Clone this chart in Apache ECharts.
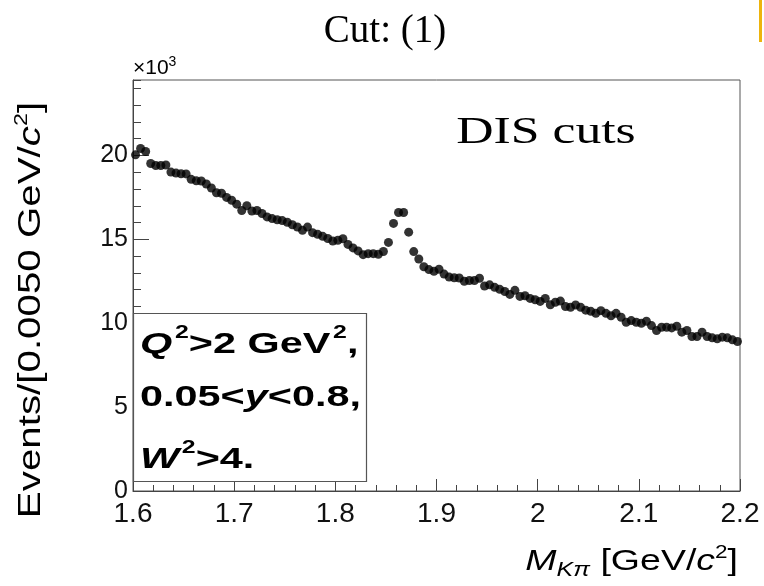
<!DOCTYPE html>
<html>
<head>
<meta charset="utf-8">
<script src="https://cdn.jsdelivr.net/npm/echarts@6/dist/echarts.min.js"></script>
<style>
  html, body { margin: 0; padding: 0; background: #fff; }
  #chart { width: 764px; height: 586px; }
</style>
</head>
<body>
<div id="chart"></div>
<script>
// K-pi invariant mass histogram, 120 bins of 0.005 GeV/c^2 from 1.6 to 2.2
const binLow = 1.6;
const binWidth = 0.005;
// events per bin, in units of 10^3
const counts = [
  20.04, 20.42, 20.24, 19.52, 19.40, 19.40, 19.43, 19.01, 18.95, 18.91,
  18.90, 18.58, 18.49, 18.48, 18.30, 18.06, 17.78, 17.75, 17.50, 17.33,
  17.10, 16.72, 17.01, 16.69, 16.72, 16.54, 16.34, 16.24, 16.17, 16.12,
  16.02, 15.87, 15.74, 15.54, 15.73, 15.40, 15.30, 15.18, 15.05, 14.90,
  14.95, 15.04, 14.70, 14.49, 14.31, 14.09, 14.15, 14.15, 14.11, 14.28,
  14.82, 15.95, 16.60, 16.60, 15.43, 14.27, 13.83, 13.37, 13.20, 13.10,
  13.22, 12.93, 12.75, 12.71, 12.70, 12.50, 12.55, 12.55, 12.68, 12.22,
  12.29, 12.14, 12.02, 11.89, 11.72, 11.96, 11.60, 11.64, 11.48, 11.40,
  11.30, 11.48, 11.10, 11.25, 11.32, 11.00, 10.95, 11.09, 10.95, 10.78,
  10.71, 10.59, 10.75, 10.59, 10.45, 10.59, 10.36, 10.06, 10.16, 10.06,
  10.00, 10.12, 9.86, 9.57, 9.76, 9.76, 9.72, 9.82, 9.47, 9.57,
  9.21, 9.21, 9.47, 9.21, 9.13, 9.07, 9.17, 9.13, 9.01, 8.91
];
const xRange = [1.6, 2.2];
const yRange = [0, 24.5];
const xTickLabels = ['1.6', '1.7', '1.8', '1.9', '2', '2.1', '2.2'];
const yTickLabels = ['0', '5', '10', '15', '20'];

const titleText = 'Cut: (1)';
const boxText = 'DIS cuts';

const points = counts.map((c, i) => [binLow + binWidth * (i + 0.5), c]);

const sansFont = '"Liberation Sans", Arial, sans-serif';
const serifFont = '"Liberation Serif", "Times New Roman", serif';
const axisColor = '#444';

// helper for a stretched rich-text label
function richLabel(x, y, text, rich, align, sx, extra) {
  return Object.assign({
    type: 'text', z: 100, x: x, y: y, scaleX: sx || 1,
    style: {
      text: text, rich: rich,
      align: align, verticalAlign: 'middle',
      textAlign: align, textVerticalAlign: 'middle'
    }
  }, extra || {});
}

const cutRich = {
  b: { fontFamily: sansFont, fontWeight: 'bold', fontSize: 30, color: '#000', lineHeight: 36, verticalAlign: 'bottom' },
  bi: { fontFamily: sansFont, fontWeight: 'bold', fontStyle: 'italic', fontSize: 30, color: '#000', lineHeight: 36, verticalAlign: 'bottom' },
  s: { fontFamily: sansFont, fontWeight: 'bold', fontSize: 18, color: '#000', lineHeight: 18, verticalAlign: 'top', padding: [0, 0, 0, 2] }
};

const chart = echarts.init(document.getElementById('chart'), null, { renderer: 'canvas' });

chart.setOption({
  animation: false,
  backgroundColor: '#fff',
  grid: {
    left: 133, right: 24, top: 80, bottom: 95,
    show: true, borderColor: '#555', borderWidth: 1, backgroundColor: 'transparent'
  },
  xAxis: [{
    type: 'value', min: xRange[0], max: xRange[1], interval: 0.1,
    axisLine: { show: true, lineStyle: { color: axisColor, width: 1 } },
    axisTick: { show: true, inside: true, length: 12, lineStyle: { color: axisColor } },
    minorTick: { show: true, splitNumber: 5, length: 6, lineStyle: { color: axisColor } },
    splitLine: { show: false },
    axisLabel: {
      margin: 9, fontFamily: sansFont, fontSize: 28, color: '#111',
      formatter: v => xTickLabels[Math.round((v - xRange[0]) / 0.1)] ?? ''
    }
  }],
  yAxis: [{
    type: 'value', min: yRange[0], max: yRange[1], interval: 5, position: 'left',
    axisLine: { show: true, lineStyle: { color: axisColor, width: 1 } },
    axisTick: { show: true, inside: true, length: 16, lineStyle: { color: axisColor } },
    splitLine: { show: false },
    axisLabel: {
      margin: 5, fontFamily: sansFont, fontSize: 25, color: '#111', showMaxLabel: false,
      formatter: v => yTickLabels[Math.round(v / 5)] ?? ''
    }
  }, {
    // minor ticks every 10^3 events
    type: 'value', min: yRange[0], max: yRange[1], interval: 1, position: 'left', offset: 0,
    axisLine: { show: false },
    axisTick: { show: true, inside: true, length: 8, lineStyle: { color: axisColor } },
    splitLine: { show: false },
    axisLabel: { show: false }
  }],
  series: [{
    type: 'scatter',
    xAxisIndex: 0, yAxisIndex: 0,
    data: points,
    symbol: 'circle',
    symbolSize: 9,
    itemStyle: { color: '#000' },
    silent: true
  }],
  graphic: [
    {
      type: 'rect', z: 100,
      shape: { x: 759, y: 0, width: 3, height: 42 },
      style: { fill: '#EDB40C' }
    },
    {
      type: 'text', z: 100, x: 385, y: 32,
      style: {
        text: titleText, font: '39px ' + serifFont, fill: '#000',
        align: 'center', verticalAlign: 'middle', textAlign: 'center', textVerticalAlign: 'middle'
      }
    },
    richLabel(133, 67, '{n|×10}{s|3}', {
      n: { fontFamily: sansFont, fontSize: 21, color: '#111', lineHeight: 24, verticalAlign: 'bottom' },
      s: { fontFamily: sansFont, fontSize: 14, color: '#111', lineHeight: 16, verticalAlign: 'top' }
    }, 'left', 1),
    {
      type: 'text', z: 100, x: 546, y: 133, scaleX: 1.36,
      style: {
        text: boxText, font: '38px ' + serifFont, fill: '#000',
        align: 'center', verticalAlign: 'middle', textAlign: 'center', textVerticalAlign: 'middle'
      }
    },
    {
      type: 'rect', z: 90,
      shape: { x: 133.5, y: 313.5, width: 233, height: 168 },
      style: { fill: '#fff', stroke: '#555', lineWidth: 1.2 }
    },
    richLabel(140, 342, '{bi|Q}{s|2}{b|>2 GeV}{s|2}{b|,}', cutRich, 'left', 1.38),
    richLabel(140, 395, '{b|0.05<}{bi|y}{b|<0.8,}', cutRich, 'left', 1.38),
    richLabel(140, 457, '{bi|W}{s|2}{b|>4.}', cutRich, 'left', 1.38),
    richLabel(738, 562, '{i|M}{sub|Kπ}{n| [GeV/}{i|c}{sup|2}{n|]}', {
      i: { fontFamily: sansFont, fontStyle: 'italic', fontSize: 30, color: '#111', lineHeight: 36 },
      n: { fontFamily: sansFont, fontSize: 30, color: '#111', lineHeight: 36 },
      sub: { fontFamily: sansFont, fontStyle: 'italic', fontSize: 20, color: '#111', lineHeight: 22, verticalAlign: 'bottom' },
      sup: { fontFamily: sansFont, fontSize: 18, color: '#111', lineHeight: 20, verticalAlign: 'top' }
    }, 'right', 1.25),
    richLabel(31, 310, '{n|Events/[0.0050 GeV/}{i|c}{sup|2}{n|]}', {
      i: { fontFamily: sansFont, fontStyle: 'italic', fontSize: 31, color: '#111', lineHeight: 36 },
      n: { fontFamily: sansFont, fontSize: 31, color: '#111', lineHeight: 36 },
      sup: { fontFamily: sansFont, fontSize: 18, color: '#111', lineHeight: 20, verticalAlign: 'top' }
    }, 'center', 1.3, { rotation: Math.PI / 2 })
  ]
});
</script>
</body>
</html>
